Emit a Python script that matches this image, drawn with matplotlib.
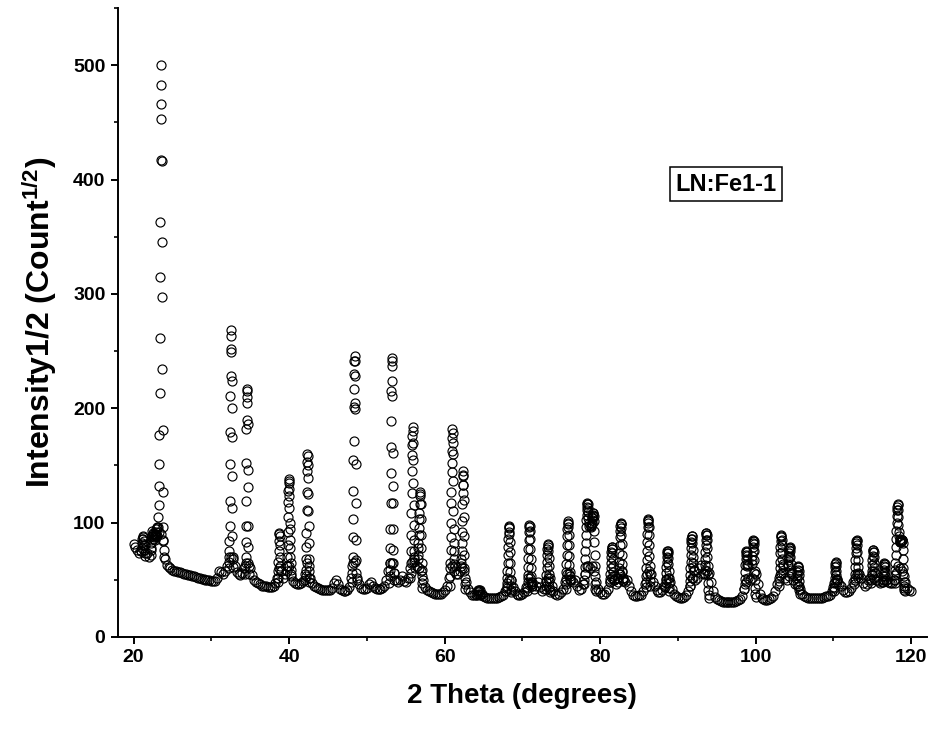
import numpy as np
import matplotlib
matplotlib.use("Agg")
import matplotlib.pyplot as plt
from matplotlib.ticker import MultipleLocator

plt.rcParams['font.family'] = ['Liberation Sans', 'DejaVu Sans']
plt.rcParams['font.weight'] = 'bold'
plt.rcParams['mathtext.fontset'] = 'custom'
plt.rcParams['mathtext.rm'] = 'Liberation Sans:bold'
plt.rcParams['mathtext.bf'] = 'Liberation Sans:bold'
plt.rcParams['mathtext.default'] = 'bf'

# --- data ------------------------------------------------------------------
# coarse scan of the background (every 0.25 deg from 20 to 120)
bg_start = 20.0
bg_step = 0.25
bg_counts = [
    81, 79, 76, 73, 75, 86, 80, 73, 70, 78, 90, 85, 88, 92, 90, 85,          # 20.00-23.75
    68, 63, 61, 60, 59, 58, 57.5, 57, 56.5, 56, 55.5, 55, 54.5, 54, 53.5, 53,  # 24.00-27.75
    52.5, 52, 51.5, 51, 50.5, 50, 50, 49.5, 49, 49, 49, 52, 58, 57, 55, 58,    # 28.00-31.75
    62, 70, 70, 68, 62, 57, 55, 54, 56, 60, 65, 65, 60, 54, 50, 48,            # 32.00-35.75
    47, 46, 45, 45, 44.5, 44, 44, 44, 45, 47, 52, 60, 58, 52, 55, 62,          # 36.00-39.75
    62, 55, 49, 47, 46, 46, 47, 49, 55, 65, 62, 52, 47, 45, 44, 43,            # 40.00-43.75
    42, 41.5, 41, 41, 41, 41, 43, 47, 50, 46, 42, 41, 40.5, 40.5, 41, 44,      # 44.00-47.75
    52, 65, 66, 52, 46, 43, 42, 42, 43, 46, 48, 45, 43, 42, 42, 42,            # 48.00-51.75
    43, 45, 50, 58, 65, 65, 56, 50, 48, 50, 53, 49, 48, 52, 60, 66,            # 52.00-55.75
    66, 60, 62, 60, 58, 50, 44, 41, 40, 39, 38.5, 38, 38, 38, 38, 39,          # 56.00-59.75
    41, 45, 52, 60, 62, 58, 55, 55, 58, 60, 58, 48, 42, 39, 37, 36.5,          # 60.00-63.75
    37, 39, 41, 38, 36, 35, 34.5, 34, 34, 34, 34, 34.5, 35, 35.5, 37, 40,      # 64.00-67.75
    45, 50, 50, 44, 40, 38, 37, 37, 37.5, 39, 44, 52, 52, 45, 42, 45,          # 68.00-71.75
    48, 44, 40, 42, 48, 52, 52, 45, 40, 38, 37, 37.5, 39, 42, 48, 55,          # 72.00-75.75
    55, 50, 48, 50, 45, 41, 42, 46, 55, 62, 62, 60, 62, 58, 48, 42,            # 76.00-79.75
    39, 38, 38, 39, 42, 48, 52, 50, 46, 48, 55, 58, 52, 48, 50, 45,            # 80.00-83.75
    40, 37, 36, 36, 36.5, 37, 40, 46, 55, 58, 55, 48, 45, 41, 39, 39,          # 84.00-87.75
    41, 45, 50, 52, 48, 42, 38, 36, 35, 34.5, 34.5, 35, 37, 40, 45, 52,        # 88.00-91.75
    52, 50, 52, 60, 63, 55, 55, 58, 56, 48, 40, 35, 33, 32, 31.5, 31,          # 92.00-95.75
    31, 31, 31, 31, 31, 31, 31.5, 32, 33, 36, 42, 48, 52, 50, 52, 56,          # 96.00-99.75
    55, 46, 38, 34, 33, 32.5, 32.5, 33, 34, 36, 40, 46, 52, 56, 56, 52,        # 100.00-103.75
    50, 53, 55, 50, 46, 46, 45, 42, 38, 36, 35, 34.5, 34, 34, 34, 34,          # 104.00-107.75
    34, 34, 34.5, 35, 35.5, 36, 37, 40, 44, 48, 48, 46, 45, 41, 39, 39,        # 108.00-111.75
    40, 43, 48, 52, 55, 55, 52, 47, 45, 46, 50, 52, 55, 52, 50, 49,            # 112.00-115.75
    47, 48, 50, 50, 48, 47, 47, 50, 56, 62, 60, 58, 55, 48, 43, 41,            # 116.00-119.75
    40,                                                                          # 120.00
]

# fine scans across the reflections: (start 2theta, step, counts)
peak_starts = [21.0, 22.2, 23.17, 32.25, 34.35, 38.55, 39.73, 42.1, 48.1, 52.9,
               55.6, 56.55, 60.7, 62.1, 64.2, 67.95, 70.6, 73.0, 75.55, 77.95,
               78.8, 81.25, 82.35, 85.85, 88.4, 91.5, 93.4, 98.55, 99.5, 103.0,
               104.15, 105.3, 110.05, 112.7, 114.85, 116.35, 117.85, 118.5]
peak_steps = [0.05, 0.05, 0.03, 0.025, 0.025, 0.03, 0.025, 0.025, 0.025, 0.025,
              0.025, 0.03, 0.025, 0.025, 0.05, 0.03, 0.03, 0.03, 0.03, 0.03,
              0.03, 0.03, 0.03, 0.03, 0.03, 0.03, 0.03, 0.03, 0.03, 0.03,
              0.03, 0.03, 0.03, 0.03, 0.03, 0.03, 0.03, 0.03]
peak_counts = [
    [75, 78, 82, 86, 88, 87, 84, 80, 76, 73, 71],
    [72, 76, 82, 88, 93, 91, 88, 86, 86, 87, 88, 89, 90, 90, 92, 94, 95, 96],
    [96, 105, 115, 132, 151, 177, 213, 261, 315, 363, 417, 453, 483, 500, 466,
     416, 345, 297, 234, 181, 127, 96, 84, 76, 70],
    [60, 66, 75, 84, 97, 119, 151, 179, 211, 228, 252, 268, 263, 249, 224, 200,
     175, 141, 113, 88, 70, 61],
    [55, 62, 70, 83, 97, 119, 152, 182, 190, 205, 215, 217, 210, 186, 146, 131,
     97, 79, 62, 55],
    [48, 52, 58, 66, 75, 84, 90, 91, 88, 80, 70, 62, 58],
    [58, 62, 70, 80, 92, 105, 118, 128, 135, 138, 136, 129, 123, 113, 100, 94,
     85, 78, 70, 65, 59, 53],
    [50, 53, 59, 68, 79, 91, 111, 127, 145, 153, 160, 158, 150, 139, 125, 110,
     97, 82, 68, 58, 52, 48],
    [48, 56, 62, 70, 87, 103, 128, 155, 171, 201, 217, 230, 241, 246, 241, 228,
     205, 199, 151, 117, 85, 67, 56, 50],
    [47, 53, 59, 65, 78, 94, 117, 143, 166, 189, 215, 224, 237, 244, 241, 211,
     161, 132, 117, 94, 76, 65, 56, 50],
    [52, 56, 65, 75, 89, 108, 126, 145, 159, 168, 176, 184, 180, 170, 155, 135,
     115, 98, 85, 75, 70, 68],
    [68, 72, 78, 82, 89, 95, 103, 108, 116, 123, 127, 125, 116, 103, 89, 78,
     65, 59, 53, 47, 43],
    [45, 53, 65, 76, 87, 100, 117, 127, 144, 152, 163, 174, 182, 178, 170, 160,
     136, 110, 94, 82, 75, 68, 64, 62],
    [62, 65, 68, 75, 82, 92, 101, 116, 126, 133, 141, 145, 142, 133, 120, 105,
     88, 72, 60, 52, 46, 42],
    [37, 38, 40, 41, 41, 40, 38, 37],
    [40, 43, 47, 52, 58, 65, 72, 79, 86, 92, 96, 97, 95, 90, 83, 74, 65, 57,
     50, 45, 41, 39],
    [40, 43, 48, 54, 61, 69, 77, 85, 92, 96, 98, 97, 93, 86, 77, 68, 60, 53,
     48, 46, 45, 46, 48],
    [42, 45, 49, 54, 60, 66, 72, 77, 80, 81, 79, 75, 69, 62, 55, 49, 44, 41, 39],
    [42, 46, 51, 57, 64, 72, 80, 88, 94, 99, 101, 100, 96, 89, 80, 71, 63, 57,
     53, 51, 50],
    [46, 50, 55, 61, 68, 75, 82, 89, 96, 102, 107, 111, 114, 116, 117, 116,
     113, 109, 104, 100, 97],
    [96, 97, 98, 99, 100, 102, 104, 105, 106, 107, 108, 108, 106, 101, 93, 83,
     72, 62, 53, 46, 42, 40],
    [48, 51, 55, 60, 65, 70, 74, 77, 79, 79, 77, 73, 68, 62, 57, 53, 51, 50],
    [52, 55, 60, 66, 73, 80, 87, 93, 97, 99, 100, 99, 95, 89, 81, 72, 64, 57,
     52, 50, 49],
    [44, 48, 53, 60, 67, 75, 83, 90, 96, 100, 102, 103, 101, 96, 89, 80, 71,
     62, 55, 49, 45],
    [44, 47, 51, 56, 61, 66, 70, 73, 75, 75, 73, 69, 64, 58, 52, 47, 43, 40],
    [45, 49, 54, 60, 66, 72, 78, 83, 86, 88, 88, 86, 82, 76, 70, 65, 61, 59, 58],
    [56, 59, 63, 68, 74, 80, 85, 89, 91, 91, 89, 85, 78, 70, 62, 54, 47, 41,
     37, 34],
    [42, 46, 51, 57, 63, 68, 72, 74, 75, 74, 71, 67, 64, 62, 63],
    [64, 67, 71, 75, 79, 82, 84, 85, 84, 81, 75, 67, 58, 50, 43, 38, 35],
    [45, 49, 54, 60, 66, 73, 79, 84, 87, 89, 88, 85, 80, 74, 68, 64, 62],
    [62, 64, 67, 70, 73, 76, 78, 79, 78, 75, 70, 64, 59, 56],
    [52, 54, 57, 59, 61, 62, 61, 58, 54, 49, 45, 41, 38],
    [40, 43, 47, 52, 57, 61, 64, 66, 65, 62, 58, 54, 51, 50, 50],
    [46, 50, 55, 61, 67, 73, 78, 82, 84, 85, 84, 80, 74, 67, 61, 56, 52],
    [47, 50, 54, 58, 63, 67, 71, 74, 76, 76, 74, 70, 65, 61, 58, 56],
    [48, 50, 53, 56, 59, 62, 64, 65, 64, 61, 57, 53, 50],
    [47, 50, 54, 59, 65, 72, 79, 86, 93, 100, 106, 111, 114, 116, 115, 111,
     105, 98, 92, 88],
    [86, 84, 83, 83, 83, 84, 84, 85, 85, 85, 85, 85, 85, 82, 76, 68, 60, 53,
     48, 45, 43, 41, 40],
]

sample_label = "LN:Fe1-1"

# --- assemble the scan ------------------------------------------------------
xs = [bg_start + bg_step * np.arange(len(bg_counts))]
ys = [np.array(bg_counts, dtype=float)]
for start, step, counts in zip(peak_starts, peak_steps, peak_counts):
    xs.append(start + step * np.arange(len(counts)))
    ys.append(np.array(counts, dtype=float))
two_theta = np.concatenate(xs)
intensity = np.concatenate(ys)

# --- plot -------------------------------------------------------------------
fig = plt.figure(figsize=(9.34, 7.37), dpi=100)
ax = fig.add_axes([0.1263, 0.1357, 0.866, 0.8535])

ax.plot(two_theta, intensity, linestyle='none', marker='o', markersize=6.5,
        markerfacecolor='none', markeredgecolor='black', markeredgewidth=0.85)

ax.set_xlim(18, 122)
ax.set_ylim(0, 550)
ax.xaxis.set_major_locator(MultipleLocator(20))
ax.xaxis.set_minor_locator(MultipleLocator(10))
ax.yaxis.set_major_locator(MultipleLocator(100))
ax.yaxis.set_minor_locator(MultipleLocator(50))
ax.set_yticks(np.arange(0, 501, 100))

for side in ['top', 'right']:
    ax.spines[side].set_visible(False)
for side in ['left', 'bottom']:
    ax.spines[side].set_linewidth(1.4)

ax.tick_params(which='major', direction='out', length=5, width=1.4,
               labelsize=14, pad=4)
ax.tick_params(which='minor', direction='out', length=3, width=1.2)
for lbl in ax.get_xticklabels() + ax.get_yticklabels():
    lbl.set_fontweight('bold')

ax.set_xlabel('2 Theta (degrees)', fontsize=20, fontweight='bold', labelpad=12)
ax.set_ylabel(r'Intensity1/2 (Count$^{1/2}$)', fontsize=23, fontweight='bold',
              labelpad=10)

ax.text(0.752, 0.72, sample_label, transform=ax.transAxes, fontsize=17,
        fontweight='bold', ha='center', va='center',
        bbox=dict(boxstyle='square,pad=0.22', facecolor='white',
                  edgecolor='black', linewidth=1.1))

fig.savefig('out.png', dpi=100)
